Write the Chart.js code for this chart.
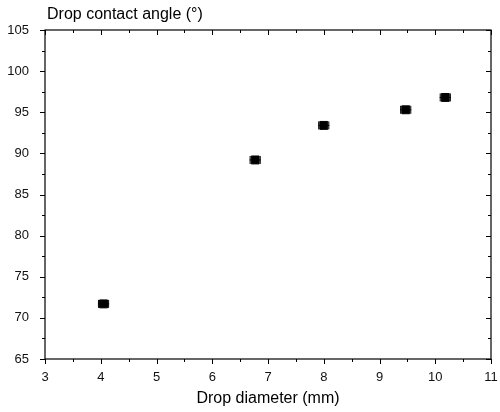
<!DOCTYPE html>
<html>
<head>
<meta charset="utf-8">
<script src="https://cdn.jsdelivr.net/npm/chart.js@4.4.0/dist/chart.umd.min.js"></script>
<style>
  html, body { margin: 0; padding: 0; background: #fff; }
  #wrap { width: 500px; height: 412px; }
</style>
</head>
<body>
<div id="wrap"><canvas id="grafico" width="500" height="412"></canvas></div>
<script>
// dados
const diametros = [4.05, 6.77, 8.0, 9.47, 10.18]
const angulos = [71.7, 89.2, 93.4, 95.3, 96.8]
const errosDiametro = [0.1, 0.1, 0.1, 0.1, 0.1]
const errosAngulo = [0.2, 0.2, 0.2, 0.2, 0.2]

const tituloX = 'Drop diameter (mm)'
const tituloY = 'Drop contact angle (°)'

const fonte = '"Liberation Sans", Arial, sans-serif'

const pontos = diametros.map((d, i) => ({ x: d, y: angulos[i] }))

// desenha moldura, ticks e barras de erro
const molduraPlugin = {
    id: 'moldura',
    beforeDatasetsDraw(chart) {
        const ctx = chart.ctx
        const sx = chart.scales.x
        const sy = chart.scales.y
        ctx.save()
        ctx.strokeStyle = '#000'
        ctx.lineWidth = 1

        // barras de erro
        diametros.forEach((d, i) => {
            const px = sx.getPixelForValue(d)
            const py = sy.getPixelForValue(angulos[i])
            const x1 = sx.getPixelForValue(d - errosDiametro[i])
            const x2 = sx.getPixelForValue(d + errosDiametro[i])
            const y1 = sy.getPixelForValue(angulos[i] - errosAngulo[i])
            const y2 = sy.getPixelForValue(angulos[i] + errosAngulo[i])
            ctx.beginPath()
            ctx.moveTo(x1, py); ctx.lineTo(x2, py)
            ctx.moveTo(x1 + 0.5, py - 4); ctx.lineTo(x1 + 0.5, py + 4)
            ctx.moveTo(x2 - 0.5, py - 4); ctx.lineTo(x2 - 0.5, py + 4)
            ctx.moveTo(px, y1); ctx.lineTo(px, y2)
            ctx.stroke()
        })
        ctx.restore()
    },
    afterDraw(chart) {
        const ctx = chart.ctx
        const sx = chart.scales.x
        const sy = chart.scales.y
        const a = chart.chartArea
        ctx.save()
        ctx.strokeStyle = '#000'
        ctx.lineWidth = 1.2
        ctx.strokeRect(a.left, a.top, a.right - a.left, a.bottom - a.top)

        ctx.lineWidth = 1
        ctx.beginPath()
        for (let v = 3; v <= 11.001; v += 0.5) {
            const px = Math.round(sx.getPixelForValue(v)) + 0.5
            const len = v % 1 === 0 ? 5 : 3
            ctx.moveTo(px, a.bottom); ctx.lineTo(px, a.bottom + len)
            ctx.moveTo(px, a.top); ctx.lineTo(px, a.top + len)
        }
        for (let v = 65; v <= 105.001; v += 2.5) {
            const py = Math.round(sy.getPixelForValue(v)) + 0.5
            const len = v % 5 === 0 ? 5 : 3
            ctx.moveTo(a.left, py); ctx.lineTo(a.left - len, py)
            ctx.moveTo(a.right, py); ctx.lineTo(a.right - len, py)
        }
        ctx.stroke()

        // título do eixo y, horizontal no topo
        ctx.fillStyle = '#000'
        ctx.font = '16px ' + fonte
        ctx.textBaseline = 'alphabetic'
        ctx.textAlign = 'left'
        ctx.fillText(tituloY, a.left + 2, 19)
        ctx.restore()
    }
}

const config = {
    type: 'scatter',
    data: {
        datasets: [{
            label: 'Contact angle',
            data: pontos,
            pointStyle: 'rect',
            pointRadius: 5.6,
            pointHoverRadius: 5.6,
            backgroundColor: '#000',
            borderColor: '#000',
            borderWidth: 1
        }]
    },
    options: {
        responsive: false,
        animation: false,
        layout: { padding: { left: 0, right: 9, top: 30, bottom: 0 } },
        plugins: {
            legend: { display: false },
            tooltip: { enabled: false }
        },
        scales: {
            x: {
                type: 'linear',
                min: 3,
                max: 11,
                grid: { display: false },
                border: { display: false },
                ticks: {
                    stepSize: 1,
                    color: '#111',
                    font: { family: fonte, size: 13 },
                    padding: 3
                },
                title: {
                    display: true,
                    text: tituloX,
                    color: '#000',
                    font: { family: fonte, size: 16 },
                    padding: { top: 0, bottom: 4 }
                },
                afterFit(scale) {
                    scale.height = 53
                    scale.paddingLeft = 0
                    scale.paddingRight = 0
                }
            },
            y: {
                type: 'linear',
                min: 65,
                max: 105,
                grid: { display: false },
                border: { display: false },
                ticks: {
                    stepSize: 5,
                    color: '#111',
                    font: { family: fonte, size: 13 },
                    padding: 8
                },
                afterFit(scale) { scale.width = 45 }
            }
        }
    },
    plugins: [molduraPlugin]
}

let meuGrafico = new Chart(document.getElementById('grafico'), config)
</script>
</body>
</html>
